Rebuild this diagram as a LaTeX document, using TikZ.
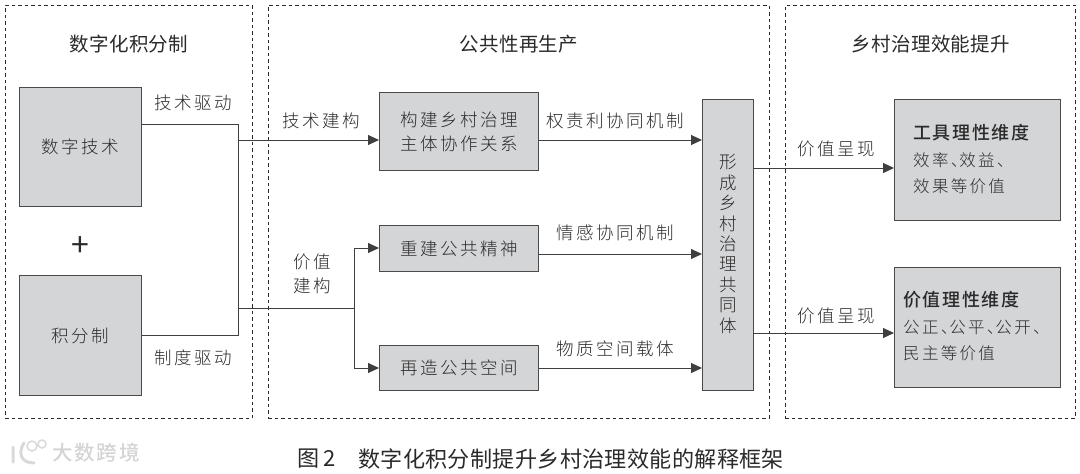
\documentclass[tikz,border=0pt]{standalone}
\usepackage{fontspec}
\setmainfont{Noto Sans CJK SC}
\newfontfamily\bodyf[LetterSpace=14]{Noto Sans CJK SC Light}
\newfontfamily\titlef[LetterSpace=1.5]{Noto Sans CJK SC}
\newfontfamily\boldf[LetterSpace=9]{Noto Sans CJK SC Medium}
\newcommand{\dun}{、\kern-8pt}
\usetikzlibrary{arrows.meta,calc}
\definecolor{boxfill}{HTML}{D4D5D7}
\definecolor{ink}{HTML}{2A2A2A}
\tikzset{
  panel/.style={draw=ink,line width=0.7pt,dash pattern=on 3.5pt off 3pt},
  grey/.style={draw=ink!85,line width=1pt,fill=boxfill,inner sep=0pt,text=ink},
  link/.style={draw=ink!90,line width=1pt},
  flow/.style={link,-{Triangle[length=11pt,width=10pt]}},
  lab/.style={text=ink,inner sep=0pt,align=center,font={\fontsize{17.5}{24}\bodyf}},
  head/.style={text=ink,inner sep=0pt,font={\fontsize{19.5}{22}\titlef}},
  boldhead/.style={text=ink,inner sep=0pt,font={\fontsize{18}{22}\boldf}},
  captext/.style={text=ink,inner sep=0pt,anchor=west,font={\fontsize{22.1}{24}\titlef}},
}
\begin{document}
\begin{tikzpicture}[x=1pt,y=-1pt]
\useasboundingbox (0,0) rectangle (1080,474);
% panels
\node[panel,minimum width=247pt,minimum height=413pt,anchor=north west,inner sep=0pt] (p1) at (5,5) {};
\node[panel,minimum width=501pt,minimum height=413pt,anchor=north west,inner sep=0pt] (p2) at (268,5) {};
\node[panel,minimum width=290pt,minimum height=413pt,anchor=north west,inner sep=0pt] (p3) at (785,5) {};
\node[head] (t1) at (129,44) {数字化积分制};
\node[head] (t2) at (519,44) {公共性再生产};
\node[head] (t3) at (931,44) {乡村治理效能提升};
% boxes
\node[grey,lab,minimum width=122pt,minimum height=119pt,anchor=north west] (digi) at (19,87) {数字技术};
\node[grey,lab,minimum width=122pt,minimum height=120pt,anchor=north west] (jifen) at (19,275) {积分制};
\node[text=ink,inner sep=0pt,font={\fontsize{32}{32}\selectfont}] (plus) at (80,247) {+};
\node[grey,lab,minimum width=159pt,minimum height=78pt,anchor=north west] (build) at (379,92) {构建乡村治理\\主体协作关系};
\node[grey,lab,minimum width=159pt,minimum height=46pt,anchor=north west] (spirit) at (379,225) {重建公共精神};
\node[grey,lab,minimum width=159pt,minimum height=45pt,anchor=north west] (space) at (379,345) {再造公共空间};
\node[grey,minimum width=51pt,minimum height=291pt,anchor=north west] (comm) at (702,99) {};
\node[lab,font={\fontsize{17.5}{20.4}\bodyf}] (commt) at (comm.center |- 0,244) {形\\成\\乡\\村\\治\\理\\共\\同\\体};
\node[grey,minimum width=166pt,minimum height=121pt,anchor=north west] (tool) at (894,99) {};
\node[grey,minimum width=166pt,minimum height=120pt,anchor=north west] (value) at (894,267) {};
\node[boldhead,anchor=west] (toolh) at (913,133) {工具理性维度};
\node[lab,anchor=west,align=left,font={\fontsize{16.5}{26}\bodyf}] (toolb) at (913,173) {效率\dun 效益\dun\\效果等价值};
\node[boldhead,anchor=west] (valh) at (903,300) {价值理性维度};
\node[lab,anchor=west,align=left,font={\fontsize{16.5}{26}\bodyf}] (valb) at (903,340) {公正\dun 公平\dun 公开\dun\\民主等价值};
% junctions
\coordinate (ja) at (238,124);
\coordinate (jb) at (238,335);
\coordinate (jt) at (238,140);
\coordinate (jv) at (238,308);
\coordinate (jw) at (354,308);
\coordinate (jup) at (354,248);
\coordinate (jdn) at (354,368);
\coordinate (in1) at (702,140);
\coordinate (in2) at (702,254);
\coordinate (in3) at (702,368);
\coordinate (out1) at (753,168);
\coordinate (out2) at (753,333);
% connectors
\draw[link,line join=miter] (digi.east |- ja) -- (ja) -- (jb) -- (jb -| jifen.east);
\draw[flow] (jt) -- (jt -| build.west);
\draw[link] (jv) -- (jw);
\draw[link] (jup) -- (jdn);
\draw[flow] (jup) -- (jup -| spirit.west);
\draw[flow] (jdn) -- (jdn -| space.west);
\draw[flow] (in1 -| build.east) -- (in1);
\draw[flow] (in2 -| spirit.east) -- (in2);
\draw[flow] (in3 -| space.east) -- (in3);
\draw[flow] (out1) -- (out1 -| tool.west);
\draw[flow] (out2) -- (out2 -| value.west);
% labels
\node[lab] (l1) at (193,103) {技术驱动};
\node[lab] (l2) at (193,358) {制度驱动};
\node[lab] (l3) at (321,121) {技术建构};
\node[lab] (l4) at (312,274) {价值\\建构};
\node[lab] (l5) at (615,121) {权责利协同机制};
\node[lab] (l6) at (615,233) {情感协同机制};
\node[lab] (l7) at (615,349) {物质空间载体};
\node[lab] (l8) at (836,149) {价值呈现};
\node[lab] (l9) at (836,316) {价值呈现};
% caption
\node[captext] (cap1) at (297,459) {图\kern4pt 2};
\node[captext] (cap2) at (358,459) {数字化积分制提升乡村治理效能的解释框架};
% watermark
\node[text=black!17,inner sep=0pt,anchor=west,font={\fontsize{20.5}{22}\boldf}] (wm) at (52,453) {大数跨境};
\draw[black!15,line width=3pt,line cap=round] (13,447) -- (13,462) (24,443) .. controls (18,452) and (20,463) .. (34,463);
\draw[black!15,line width=1.5pt] (32,446) circle (5pt) (42,444) circle (4pt);
\end{tikzpicture}
\end{document}
